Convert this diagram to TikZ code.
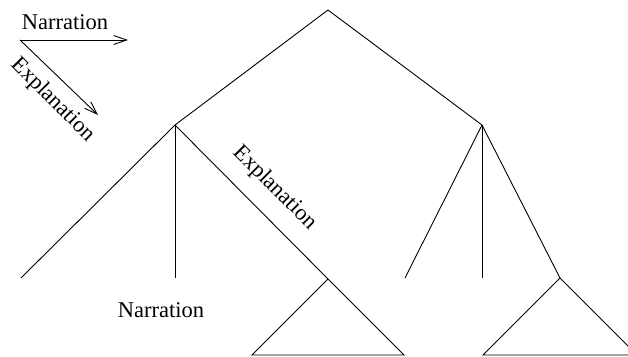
\documentclass[tikz,border=0pt]{standalone}
\usepackage{fontspec}
\setmainfont{Liberation Serif}
\usepackage{tikz}
\usetikzlibrary{arrows.meta}

\begin{document}
\begin{tikzpicture}[x=1pt, y=-1pt,
    branch/.style={line width=0.9pt},
    legendarrow/.style={line width=0.9pt, -{Straight Barb[length=13pt, width=9pt, line width=0.9pt]}},
    label/.style={font=\fontsize{22.5}{26}\selectfont, inner sep=0pt}
]

  % Rahmen
  \useasboundingbox (0,0) rectangle (628,356);
  \clip (0,0) rectangle (628,356);

  % Legende
  \coordinate (origin) at (20,40);
  \coordinate (narr end) at (128,40);
  \coordinate (expl end) at (98,115);
  \draw[legendarrow] (origin) -- (narr end);
  \draw[legendarrow] (origin) -- (expl end);
  \node[label] (narr legend) at (65,22) {Narration};
  \node[label, rotate=-45] (expl legend) at (53,100) {Explanation};

  % Baum
  \coordinate (root) at (328,10);
  \coordinate (left) at (175,125);
  \coordinate (right) at (482,125);
  \draw[branch] (left) -- (root) -- (right);

  % linker Teilbaum
  \coordinate (l1) at (21,278);
  \coordinate (l2) at (175,278);
  \coordinate (l3) at (328,279);
  \coordinate (l3 right) at (404,355);
  \coordinate (l3 left) at (252,355);
  \draw[branch] (left) -- (l1);
  \draw[branch] (left) -- (l2);
  \draw[branch] (left) -- (l3) -- (l3 right) -- (l3 left) -- (l3);

  % rechter Teilbaum
  \coordinate (r1) at (405,278);
  \coordinate (r2) at (482,278);
  \coordinate (r3) at (560,278);
  \coordinate (r3 left) at (483,355);
  \coordinate (r3 right) at (637,355);
  \draw[branch] (right) -- (r1);
  \draw[branch] (right) -- (r2);
  \draw[branch] (right) -- (r3) -- (r3 right) -- (r3 left) -- (r3);

  % Beschriftungen
  \node[label, rotate=-45] (expl edge) at (275,188) {Explanation};
  \node[label] (narr leaf) at (161,310) {Narration};

\end{tikzpicture}
\end{document}
